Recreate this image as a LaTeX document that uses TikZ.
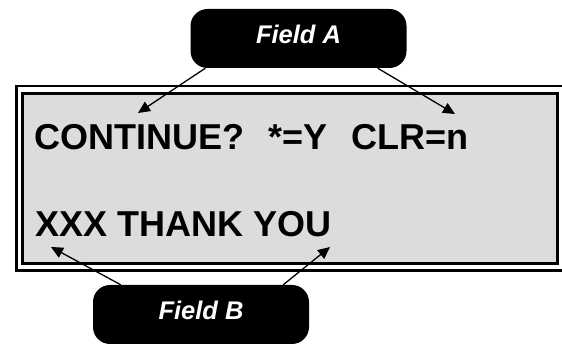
\documentclass[tikz,border=0pt]{standalone}
\usepackage{fontspec}
\setmainfont{Liberation Sans}
\usetikzlibrary{arrows.meta}
\definecolor{lcdgray}{HTML}{DCDCDC}

\begin{document}
\begin{tikzpicture}[x=1pt, y=-1pt,
	fieldbox/.style={fill=black, rounded corners=17pt, minimum width=216pt, minimum height=59pt, inner sep=0pt, text=white, text depth=9pt, font=\fontsize{25.5}{26}\selectfont\bfseries\itshape},
	lcdtext/.style={anchor=base west, inner sep=0pt, font=\fontsize{36}{36}\selectfont\bfseries},
	pointer/.style={line width=1.3pt, -{Triangle[length=12pt, width=11pt]}}]
	\useasboundingbox (0,0) rectangle (562,344);
	% display frame
	\draw[line width=2.5pt] (16.5,86) rectangle (563.5,270.5);
	\draw[line width=3pt, fill=lcdgray] (22.5,93.5) rectangle (557.5,263.5);
	\node[lcdtext] (row1) at (34,150) {CONTINUE?\hspace{24pt}*=Y\hspace{24pt}CLR=n};
	\node[lcdtext] (row2) at (35,237) {XXX THANK YOU};
	% field labels
	\node[fieldbox] (fieldA) at (298.5,38.5) {Field A};
	\node[fieldbox] (fieldB) at (201,314.5) {Field B};
	\coordinate (tipA1) at (138,113);
	\coordinate (tipA2) at (455,114);
	\coordinate (tipB1) at (51,247);
	\coordinate (tipB2) at (330,247);
	\draw[pointer] ([xshift=15pt]fieldA.south west) -- (tipA1);
	\draw[pointer] ([xshift=-29pt]fieldA.south east) -- (tipA2);
	\draw[pointer] ([xshift=28pt]fieldB.north west) -- (tipB1);
	\draw[pointer] ([xshift=-26pt]fieldB.north east) -- (tipB2);
\end{tikzpicture}
\end{document}
